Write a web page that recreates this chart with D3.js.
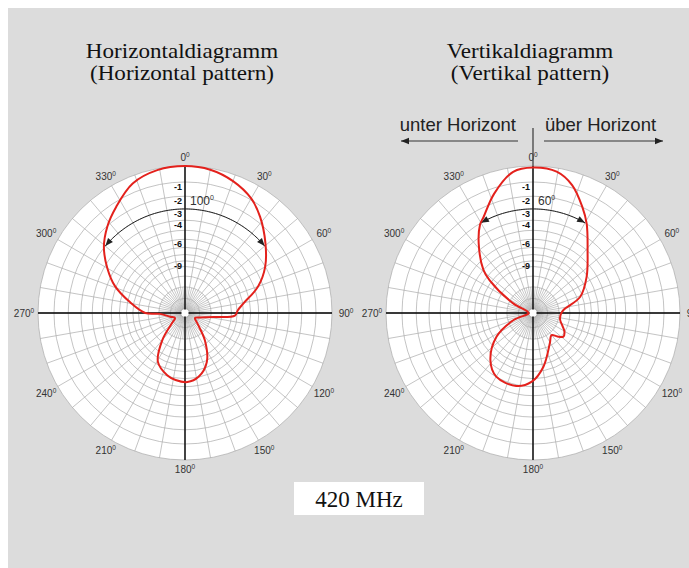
<!DOCTYPE html>
<html><head><meta charset="utf-8">
<script src="https://cdn.jsdelivr.net/npm/d3@7"></script>
<style>body{margin:0;background:#fff}svg{display:block}</style>
</head><body><svg id="c" width="689" height="568"></svg>
<script>
// ---------- data ----------
const angleTicks = [0,30,60,90,120,150,180,210,240,270,300,330];
const dbLabels = [-1,-2,-3,-4,-6,-9];
const ringDb = [0,-1,-2,-3,-4,-5,-6,-7,-8,-9,-10,-12,-15,-20,-30];
const spokeAngles = d3.range(0,360,10);
const innerSpokeAngles = d3.range(5,360,10);

// horizontal pattern (angle clockwise from 0°, relative field strength)
const hAngles = [0,10,20,30,38,49,60,70,81,87,93,98,108,117,130,144,156,168,178,188,196,209,220,232,243,256,268,270,281,291,300,309,318,327,338,349];
const hValues = [1.00,0.99,0.955,0.90,0.83,0.725,0.63,0.53,0.40,0.36,0.34,0.20,0.10,0.076,0.11,0.23,0.365,0.444,0.47,0.46,0.44,0.38,0.24,0.113,0.076,0.104,0.17,0.27,0.38,0.51,0.61,0.71,0.79,0.86,0.95,0.99];

// vertical pattern
const vAngles = [0,9.5,17,25,31,41,56,71,84,92,104,114,121,128,134,140,151,169,181,193,210,222,237,250,265,285,296,307,311,322,329,333,342,352];
const vValues = [0.99,0.975,0.91,0.795,0.709,0.566,0.44,0.34,0.21,0.19,0.19,0.22,0.25,0.262,0.23,0.196,0.236,0.372,0.467,0.509,0.50,0.433,0.295,0.14,0.03,0.04,0.15,0.369,0.447,0.60,0.70,0.737,0.854,0.97];

const charts = [
  {cx:185, title:["Horizontaldiagramm","(Horizontal pattern)"], angles:hAngles, values:hValues, beam:100},
  {cx:533, title:["Vertikaldiagramm","(Vertikal pattern)"], angles:vAngles, values:vValues, beam:60}
];
const freqLabel = "420 MHz";
const dirLabels = ["unter Horizont","über Horizont"];

// ---------- drawing ----------
const svg = d3.select("#c");
svg.append("rect").attr("x",8).attr("y",8).attr("width",681).attr("height",560).attr("fill","#dcdcdc");

const R = 147, CY = 313;
const r = d3.scaleLinear().domain([0,1]).range([0,R]);
const dbToAmp = db => Math.pow(10, db/20);
const rad = a => a*Math.PI/180;
const pt = (a, rr) => [Math.sin(rad(a))*rr, -Math.cos(rad(a))*rr];

const defs = svg.append("defs");
defs.append("marker").attr("id","ah").attr("viewBox","0 0 10 10").attr("refX",10).attr("refY",5)
  .attr("markerWidth",11).attr("markerHeight",8).attr("markerUnits","userSpaceOnUse")
  .attr("orient","auto-start-reverse")
  .append("path").attr("d","M0,1 L10,5 L0,9 Z").attr("fill","#222");

charts.forEach(ch => {
  const g = svg.append("g").attr("transform",`translate(${ch.cx},${CY})`);
  // title
  ch.title.forEach((t,i) => {
    svg.append("text").attr("x",ch.cx-3).attr("y",58+i*22).attr("text-anchor","middle")
      .attr("font-family","Liberation Serif, Times New Roman, serif").attr("font-size",22)
      .attr("transform",`translate(${ch.cx-3},0) scale(1.05,1) translate(${-(ch.cx-3)},0)`)
      .attr("fill","#111").text(t);
  });
  g.append("circle").attr("r",R).attr("fill","#fff");
  // rings
  g.selectAll("circle.ring").data(ringDb).join("circle").attr("class","ring")
    .attr("r",d=>r(dbToAmp(d))).attr("fill","none").attr("stroke","#aaa").attr("stroke-width",0.7);
  // spokes
  g.selectAll("line.sp").data(spokeAngles).join("line").attr("class","sp")
    .attr("x1",d=>pt(d,4)[0]).attr("y1",d=>pt(d,4)[1])
    .attr("x2",d=>pt(d,R)[0]).attr("y2",d=>pt(d,R)[1])
    .attr("stroke","#aaa").attr("stroke-width",0.7);
  g.selectAll("line.isp").data(innerSpokeAngles).join("line").attr("class","isp")
    .attr("x1",d=>pt(d,4)[0]).attr("y1",d=>pt(d,4)[1])
    .attr("x2",d=>pt(d,r(dbToAmp(-15)))[0]).attr("y2",d=>pt(d,r(dbToAmp(-15)))[1])
    .attr("stroke","#aaa").attr("stroke-width",0.6);
  // axes
  g.append("line").attr("x1",-R).attr("x2",R).attr("y1",0).attr("y2",0).attr("stroke","#000").attr("stroke-width",1.4);
  g.append("line").attr("x1",0).attr("x2",0).attr("y1",-R).attr("y2",R).attr("stroke","#000").attr("stroke-width",1.4);
  g.append("circle").attr("r",3.5).attr("fill","#fff");
  // angle labels
  const lab = g.selectAll("text.ang").data(angleTicks).join("text").attr("class","ang")
    .attr("x",d=>pt(d,156+5*Math.abs(Math.sin(rad(d))))[0])
    .attr("y",d=>pt(d,156+5*Math.abs(Math.sin(rad(d))))[1]+4)
    .attr("text-anchor","middle").attr("font-family","Liberation Sans, Arial, sans-serif")
    .attr("font-size",10).attr("fill","#333");
  lab.append("tspan").text(d=>d);
  lab.append("tspan").attr("font-size",6.5).attr("dy",-4).text("0");
  // dB labels
  g.selectAll("text.db").data(dbLabels).join("text").attr("class","db")
    .attr("x",-3).attr("y",d=>-r(dbToAmp(d))+8)
    .attr("text-anchor","end").attr("font-family","Liberation Sans, Arial, sans-serif")
    .attr("font-size",9).attr("font-weight","bold").attr("fill","#111").text(d=>d);
  // beamwidth arc
  const half = ch.beam/2, rb = r(dbToAmp(-3));
  const arcPts = d3.range(-half, half+0.01, 1).map(a => pt(a, rb));
  g.append("path").attr("d", d3.line()(arcPts)).attr("fill","none").attr("stroke","#222").attr("stroke-width",1)
    .attr("marker-start","url(#ah)").attr("marker-end","url(#ah)");
  const bl = g.append("text").attr("x",5).attr("y",-rb-4).attr("font-family","Liberation Sans, Arial, sans-serif")
    .attr("font-size",12).attr("fill","#333");
  bl.append("tspan").text(ch.beam);
  bl.append("tspan").attr("font-size",7).attr("dy",-5).text("0");
  // pattern
  const data = ch.angles.map((a,i)=>[rad(a), r(ch.values[i])]);
  g.append("path").attr("d", d3.lineRadial().curve(d3.curveCatmullRomClosed.alpha(0.5))(data))
    .attr("fill","none").attr("stroke","#e3211c").attr("stroke-width",2);
});

// direction indicator on vertical diagram
const gd = svg.append("g");
gd.append("line").attr("x1",533).attr("x2",533).attr("y1",128).attr("y2",166).attr("stroke","#444").attr("stroke-width",1.3);
gd.append("line").attr("x1",518).attr("x2",401).attr("y1",141).attr("y2",141).attr("stroke","#333").attr("stroke-width",1).attr("marker-end","url(#ah)");
gd.append("line").attr("x1",544).attr("x2",663).attr("y1",141).attr("y2",141).attr("stroke","#333").attr("stroke-width",1).attr("marker-end","url(#ah)");
gd.append("text").attr("x",516).attr("y",131).attr("text-anchor","end").attr("font-family","Liberation Sans, Arial, sans-serif").attr("font-size",18.5).attr("fill","#222").text(dirLabels[0]);
gd.append("text").attr("x",545).attr("y",131).attr("font-family","Liberation Sans, Arial, sans-serif").attr("font-size",18.5).attr("fill","#222").text(dirLabels[1]);

// frequency box
svg.append("rect").attr("x",294).attr("y",482).attr("width",130).attr("height",33).attr("fill","#fff");
svg.append("text").attr("x",359).attr("y",507).attr("text-anchor","middle").attr("font-family","Liberation Serif, Times New Roman, serif").attr("font-size",23).attr("fill","#111").text(freqLabel);
</script></body></html>
